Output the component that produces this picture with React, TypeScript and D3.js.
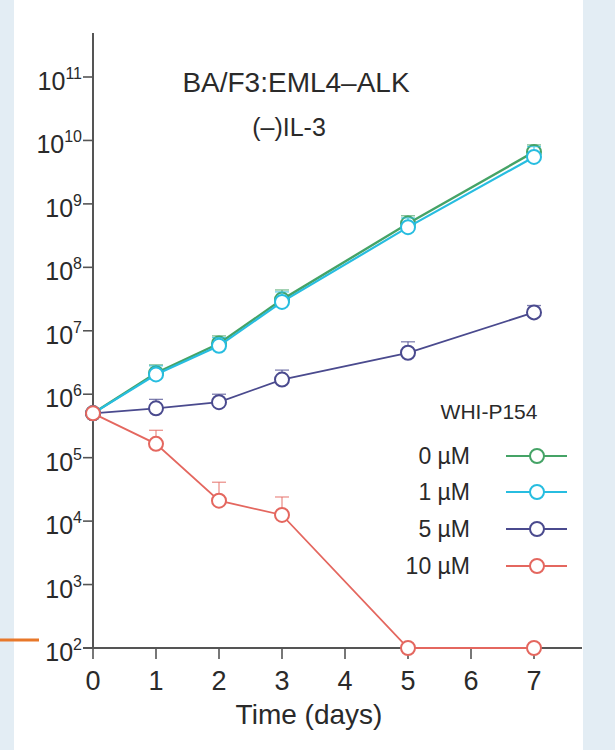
import React from "react";
import * as d3 from "d3";

const days = [0, 1, 2, 3, 5, 7];
const seriesNames = ["0 \u00b5M", "1 \u00b5M", "5 \u00b5M", "10 \u00b5M"];
const green = [5e5, 2.15e6, 6.3e6, 3.1e7, 4.9e8, 6.6e9];
const greenErr = [null, 2.9e6, 8.3e6, 4.4e7, 6.5e8, 8.5e9];
const cyan = [5e5, 2.05e6, 5.8e6, 2.85e7, 4.3e8, 5.5e9];
const cyanErr = [null, 2.8e6, 7.8e6, 4.1e7, 6e8, 8e9];
const purple = [5e5, 6e5, 7.5e5, 1.7e6, 4.5e6, 1.95e7];
const purpleErr = [null, 8.3e5, 1e6, 2.4e6, 6.7e6, 2.5e7];
const red = [5e5, 1.65e5, 2.1e4, 1.25e4, 1e2, 1e2];
const redErr = [null, 2.7e5, 4.1e4, 2.4e4, null, null];
const xTicks = [0, 1, 2, 3, 4, 5, 6, 7];
const yExps = [2, 3, 4, 5, 6, 7, 8, 9, 10, 11];
const colors = ["#45a366", "#27bde0", "#4a4a8e", "#e4675f"];

const W = 615, H = 750;
const x = d3.scaleLinear().domain([0, 7]).range([93, 534]);
const y = d3.scaleLog().domain([1e2, 1e11]).range([648, 77]);

const series = [
  { name: seriesNames[0], vals: green, err: greenErr, color: colors[0], sw: 2.4 },
  { name: seriesNames[1], vals: cyan, err: cyanErr, color: colors[1], sw: 2.2 },
  { name: seriesNames[2], vals: purple, err: purpleErr, color: colors[2], sw: 1.8 },
  { name: seriesNames[3], vals: red, err: redErr, color: colors[3], sw: 1.8 },
];

const font = "'Liberation Sans', Arial, Helvetica, sans-serif";
const ink = "#2a2a2a";

export default function App() {
  const line = d3
    .line<number>()
    .x((_, i) => x(days[i]))
    .y((v) => y(v));
  const legendY = [456, 492, 529, 566];
  return (
    <svg
      width={W}
      height={H}
      style={{ position: "absolute", left: 0, top: 0, display: "block" }}
      fontFamily={font}
    >
      <rect x={0} y={0} width={W} height={H} fill="#e3edf4" />
      <rect x={14} y={0} width={569} height={H} fill="#ffffff" />
      <line x1={0} x2={39} y1={640} y2={640} stroke="#e8782a" strokeWidth={3} />

      {/* axes */}
      <line x1={93} x2={93} y1={33} y2={649} stroke="#555" strokeWidth={2} />
      <line x1={83} x2={582} y1={648} y2={648} stroke="#555" strokeWidth={2} />
      {yExps.map((e) => (
        <g key={e}>
          <line x1={83} x2={93} y1={y(Math.pow(10, e))} y2={y(Math.pow(10, e))} stroke="#555" strokeWidth={1.6} />
          <text x={82} y={y(Math.pow(10, e)) + 13} textAnchor="end" fontSize={25} fill={ink}>
            10
            <tspan fontSize={16} dy={-11}>{e}</tspan>
          </text>
        </g>
      ))}
      {xTicks.map((t) => (
        <g key={t}>
          <line x1={x(t)} x2={x(t)} y1={648} y2={659} stroke="#555" strokeWidth={1.6} />
          <text x={x(t)} y={690} textAnchor="middle" fontSize={27} fill={ink}>
            {t}
          </text>
        </g>
      ))}
      <text x={309} y={724} textAnchor="middle" fontSize={28} fill={ink}>
        Time (days)
      </text>

      {/* titles */}
      <text x={296} y={92} textAnchor="middle" fontSize={28} fill={ink}>
        BA/F3:EML4{"\u2013"}ALK
      </text>
      <text x={289} y={136} textAnchor="middle" fontSize={25} fill={ink}>
        ({"\u2013"})IL-3
      </text>

      {/* series */}
      {series.map((s) => (
        <g key={s.name}>
          {s.err.map((e, i) =>
            e == null ? null : (
              <g key={i}>
                <line x1={x(days[i])} x2={x(days[i])} y1={y(s.vals[i])} y2={y(e)} stroke={s.color} strokeWidth={1.3} opacity={0.7} />
                <line x1={x(days[i]) - 7} x2={x(days[i]) + 7} y1={y(e)} y2={y(e)} stroke={s.color} strokeWidth={1.3} opacity={0.7} />
              </g>
            )
          )}
          <path d={line(s.vals) || ""} fill="none" stroke={s.color} strokeWidth={s.sw} />
          {s.vals.map((v, i) => (
            <circle key={i} cx={x(days[i])} cy={y(v)} r={7} fill="#fff" stroke={s.color} strokeWidth={2} />
          ))}
        </g>
      ))}

      {/* legend */}
      <text x={489} y={419} textAnchor="middle" fontSize={21} fill={ink}>
        WHI-P154
      </text>
      {series.map((s, i) => (
        <g key={s.name}>
          <text x={470} y={legendY[i] + 8} textAnchor="end" fontSize={23} fill={ink}>
            {s.name}
          </text>
          <line x1={506} x2={567} y1={legendY[i]} y2={legendY[i]} stroke={s.color} strokeWidth={2} />
          <circle cx={537} cy={legendY[i]} r={7} fill="#fff" stroke={s.color} strokeWidth={2} />
        </g>
      ))}
    </svg>
  );
}
